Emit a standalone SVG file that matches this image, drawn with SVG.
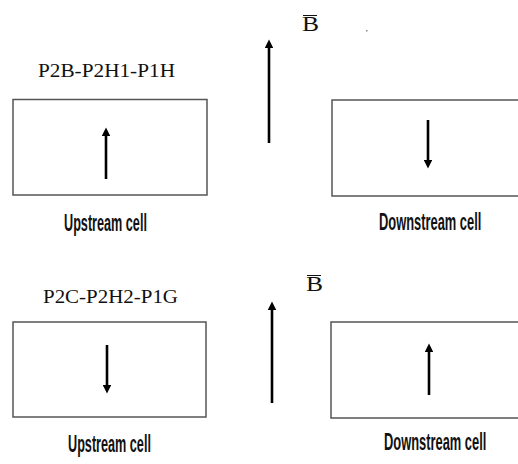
<svg xmlns="http://www.w3.org/2000/svg" width="518" height="464" viewBox="0 0 518 464">
<style>
.cell{fill:#fff;stroke:#555;stroke-width:1.5}
.arr{stroke:#000;stroke-width:2.6;fill:none}
.ser{font-family:"Liberation Serif","Times New Roman",serif;fill:#111}
.lbl{font-family:"Liberation Sans",Arial,sans-serif;font-size:23px;font-weight:bold;fill:#111}
</style>
<defs>
<marker id="ah" viewBox="0 0 10 10" refX="6" refY="5" markerWidth="3.4" markerHeight="3.4" orient="auto" markerUnits="strokeWidth">
<path d="M0,0 L10,5 L0,10 Z" fill="#000"/>
</marker>
</defs>
<rect width="518" height="464" fill="#fff"/>
<g id="top-title"><text class="ser" x="38" y="77" font-size="19" textLength="137" lengthAdjust="spacingAndGlyphs">P2B-P2H1-P1H</text></g>
<g id="top-upstream">
<rect class="cell" x="13" y="99.5" width="194" height="95.5"/>
<text class="lbl" transform="translate(64,231) scale(0.55,1)">Upstream cell</text>
</g>
<g id="top-downstream">
<rect class="cell" x="332" y="100" width="190" height="96"/>
<text class="lbl" transform="translate(379,230) scale(0.56,1)">Downstream cell</text>
</g>
<g id="top-B">
<text class="ser" x="302" y="31" font-size="20" textLength="17" lengthAdjust="spacingAndGlyphs">B</text>
<line x1="303" y1="15.5" x2="317" y2="15.5" stroke="#111" stroke-width="1"/>
<rect x="366" y="30" width="1.5" height="1.5" fill="#888"/>
</g>
<g id="bottom-title"><text class="ser" x="43" y="303" font-size="19" textLength="135" lengthAdjust="spacingAndGlyphs">P2C-P2H2-P1G</text></g>
<g id="bottom-upstream">
<rect class="cell" x="13" y="322" width="193" height="95"/>
<text class="lbl" transform="translate(68,452) scale(0.55,1)">Upstream cell</text>
</g>
<g id="bottom-downstream">
<rect class="cell" x="331" y="322" width="190" height="96"/>
<text class="lbl" transform="translate(384,450) scale(0.56,1)">Downstream cell</text>
</g>
<g id="bottom-B">
<text class="ser" x="306" y="291" font-size="20" textLength="17" lengthAdjust="spacingAndGlyphs">B</text>
<line x1="307" y1="275.5" x2="321" y2="275.5" stroke="#111" stroke-width="1"/>
</g>
<g id="connectors">
<line class="arr" x1="106" y1="179" x2="106" y2="131" marker-end="url(#ah)"/>
<line class="arr" x1="428" y1="120" x2="428" y2="165" marker-end="url(#ah)"/>
<line class="arr" x1="269" y1="143" x2="269" y2="43" marker-end="url(#ah)"/>
<line class="arr" x1="107" y1="345" x2="107" y2="390" marker-end="url(#ah)"/>
<line class="arr" x1="429" y1="395" x2="429" y2="347" marker-end="url(#ah)"/>
<line class="arr" x1="272" y1="403" x2="272" y2="305" marker-end="url(#ah)"/>
</g>
</svg>
